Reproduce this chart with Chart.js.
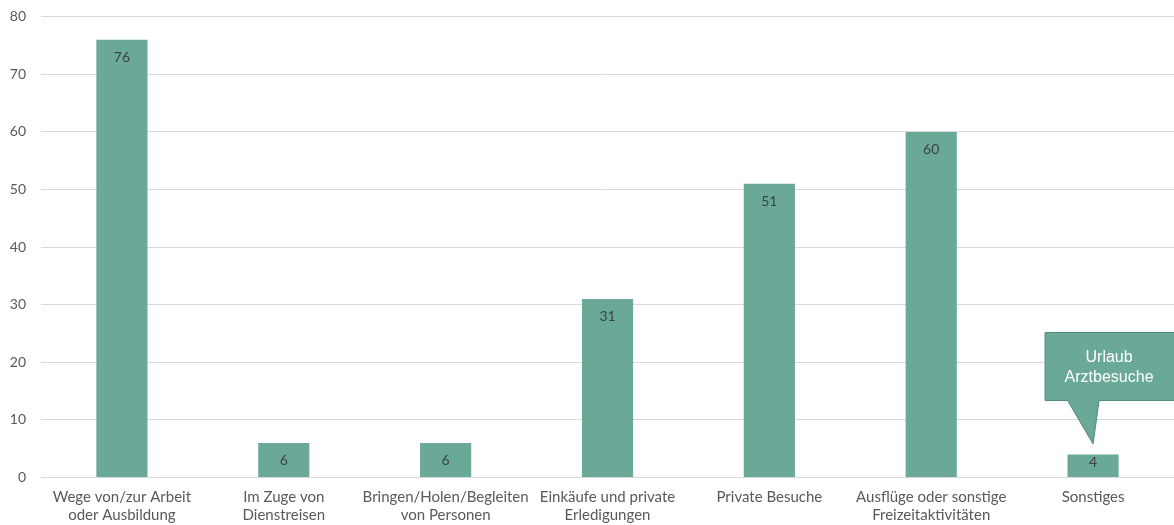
<!DOCTYPE html>
<html>
<head>
<meta charset="utf-8">
<script src="https://cdn.jsdelivr.net/npm/chart.js@4.4.1/dist/chart.umd.min.js"></script>
<style>
  html, body { margin: 0; padding: 0; background: #ffffff; }
  #wrap { width: 1174px; height: 525px; position: relative; }
</style>
</head>
<body>
<div id="wrap"><canvas id="c" width="1174" height="525"></canvas></div>
<script>
const categories = [
  ["Wege von/zur Arbeit", "oder Ausbildung"],
  ["Im Zuge von", "Dienstreisen"],
  ["Bringen/Holen/Begleiten", "von Personen"],
  ["Einkäufe und private", "Erledigungen"],
  ["Private Besuche"],
  ["Ausflüge oder sonstige", "Freizeitaktivitäten"],
  ["Sonstiges"]
];
const values = [76, 6, 6, 31, 51, 60, 4];
const yMin = 0;
const yMax = 80;
const yStep = 10;
const calloutLines = ["Urlaub", "Arztbesuche"];
const calloutIndex = 6;

const BAR = '#6AA997';
const TICK = '#595959';

const dataLabelPlugin = {
  id: 'dataLabels',
  afterDatasetsDraw(chart) {
    const ctx = chart.ctx;
    const meta = chart.getDatasetMeta(0);
    ctx.save();
    ctx.font = '14px Lato';
    ctx.fillStyle = '#404040';
    ctx.textAlign = 'center';
    ctx.textBaseline = 'middle';
    meta.data.forEach((el, i) => {
      const h = el.base - el.y;
      const off = Math.min(17.3, h - 15);
      ctx.fillText(String(values[i]), el.x, el.y + off);
    });
    ctx.restore();
  }
};

const calloutPlugin = {
  id: 'callout',
  afterDraw(chart) {
    const ctx = chart.ctx;
    const el = chart.getDatasetMeta(0).data[calloutIndex];
    const bx = el.x, top = el.y;
    const left = bx - 48, right = bx + 82;
    const bTop = top - 122, bBot = top - 54;
    const tipY = top - 10.5;
    ctx.save();
    ctx.beginPath();
    ctx.moveTo(left, bTop);
    ctx.lineTo(right, bTop);
    ctx.lineTo(right, bBot);
    ctx.lineTo(bx + 6, bBot);
    ctx.lineTo(bx, tipY);
    ctx.lineTo(bx - 25.5, bBot);
    ctx.lineTo(left, bBot);
    ctx.closePath();
    ctx.fillStyle = BAR;
    ctx.fill();
    ctx.strokeStyle = '#4E8C7A';
    ctx.lineWidth = 1;
    ctx.stroke();
    ctx.fillStyle = '#ffffff';
    ctx.font = '16px "Liberation Sans"';
    ctx.textAlign = 'center';
    ctx.textBaseline = 'middle';
    ctx.fillText(calloutLines[0], bx + 16, top - 96.5);
    ctx.fillText(calloutLines[1], bx + 16, top - 77);
    ctx.restore();
  }
};

new Chart(document.getElementById('c'), {
  type: 'bar',
  data: {
    labels: categories,
    datasets: [{
      data: values,
      backgroundColor: BAR,
      borderWidth: 0,
      categoryPercentage: 1.0,
      barPercentage: 0.316
    }]
  },
  options: {
    responsive: false,
    animation: false,
    layout: { padding: { top: 16.7, left: 0, right: 0, bottom: 0 } },
    plugins: {
      legend: { display: false },
      tooltip: { enabled: false },
      title: { display: false }
    },
    scales: {
      x: {
        grid: { display: false, drawTicks: false },
        border: { display: false },
        ticks: {
          color: TICK,
          font: { family: 'Lato', size: 15 },
          padding: 11,
          maxRotation: 0,
          autoSkip: false
        },
        afterFit(scale) { scale.height = 47.5; }
      },
      y: {
        min: yMin,
        max: yMax,
        grid: { color: '#D9D9D9', lineWidth: 1, drawTicks: false },
        border: { display: false },
        ticks: {
          stepSize: yStep,
          color: TICK,
          font: { family: 'Lato', size: 14 },
          padding: 15
        },
        afterFit(scale) {
          scale.width = 41;
          scale.paddingTop = 0;
          scale.paddingBottom = 0;
        }
      }
    }
  },
  plugins: [dataLabelPlugin, calloutPlugin]
});
</script>
</body>
</html>
